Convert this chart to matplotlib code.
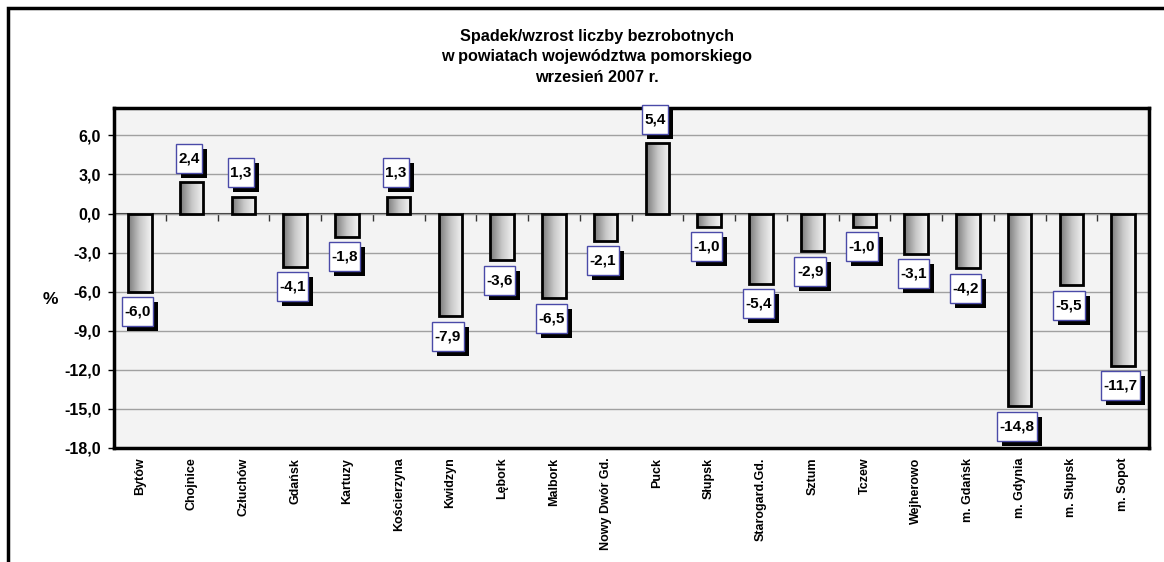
import numpy as np
import matplotlib
matplotlib.use("Agg")
import matplotlib.pyplot as plt
from matplotlib.colors import LinearSegmentedColormap
from matplotlib.patches import Rectangle
from matplotlib.transforms import IdentityTransform

plt.rcParams['font.family'] = ['Liberation Sans', 'DejaVu Sans']
plt.rcParams['font.weight'] = 'bold'

# Spadek/wzrost liczby bezrobotnych, wrzesien 2007
powiaty = ['Bytów', 'Chojnice', 'Człuchów', 'Gdańsk', 'Kartuzy', 'Kościerzyna',
           'Kwidzyn', 'Lębork', 'Malbork', 'Nowy Dwór Gd.', 'Puck', 'Słupsk',
           'Starogard.Gd.', 'Sztum', 'Tczew', 'Wejherowo', 'm. Gdańsk',
           'm. Gdynia', 'm. Słupsk', 'm. Sopot']
zmiana = [-6.0, 2.4, 1.3, -4.1, -1.8, 1.3, -7.9, -3.6, -6.5, -2.1, 5.4, -1.0,
          -5.4, -2.9, -1.0, -3.1, -4.2, -14.8, -5.5, -11.7]
y_ticks = [-18, -15, -12, -9, -6, -3, 0, 3, 6]

W, H = 1164, 562
fig = plt.figure(figsize=(W / 100, H / 100), dpi=100)
ax = fig.add_axes([114 / W, 1 - 448 / H, (1149 - 114) / W, (448 - 108) / H])

# outer chart frame
fig.add_artist(Rectangle((8 / W, -0.1), 1.2, 1 - 8 / H + 0.1, transform=fig.transFigure,
                         fill=False, lw=2.5, ec='black'))

ax.set_facecolor('#f3f3f3')
x = np.arange(len(powiaty))
bw = 0.45
cmap = LinearSegmentedColormap.from_list('bar', ['#7a7a7a', '#c8c8c8', '#f4f4f4'])
grad = np.linspace(0, 1, 64).reshape(1, -1)
for xi, v in zip(x, zmiana):
    ax.imshow(grad, cmap=cmap, aspect='auto', extent=[xi - bw / 2, xi + bw / 2, 0, v],
              zorder=2, interpolation='bilinear')
ax.bar(x, zmiana, width=bw, facecolor='none', edgecolor='black', lw=2, zorder=3)

ax.set_xlim(-0.5, len(powiaty) - 0.5)
ax.set_ylim(-18, 8.1)
ax.set_yticks(y_ticks)
ax.set_yticklabels([f"{t:.1f}".replace('.', ',') for t in y_ticks], fontsize=11.5)
ax.tick_params(axis='y', length=4.5, width=1, pad=5)
ax.yaxis.grid(True, color='#a0a0a0', lw=1)
ax.set_axisbelow(True)
ax.set_xticks(x)
ax.set_xticklabels(powiaty, rotation=90, fontsize=9)
ax.tick_params(axis='x', length=0, pad=7)
for s in ax.spines.values():
    s.set_linewidth(2.5)

# category axis crossing at zero
sec = ax.secondary_xaxis(0, transform=ax.transData)
sec.set_xticks(np.arange(len(powiaty) + 1) - 0.5)
sec.set_xticklabels([])
sec.tick_params(length=5, width=1, direction='out', color='#333333')
sec.spines['bottom'].set_linewidth(1.5)
sec.spines['bottom'].set_color('#333333')

# data labels: white box with shadow, padded more vertically than horizontally
labels = []
for xi, v in zip(x, zmiana):
    txt = f"{v:.1f}".replace('.', ',')
    dy = 24 if v > 0 else -20
    t = ax.annotate(txt, xy=(xi, v), xytext=(-2.5, dy), textcoords='offset pixels',
                    ha='center', va='center', fontsize=11, fontweight='bold', zorder=6)
    labels.append(t)

fig.canvas.draw()
for t in labels:
    bb = t.get_window_extent()
    cx, cy = (bb.x0 + bb.x1) / 2, (bb.y0 + bb.y1) / 2
    bw_px, bh_px = bb.width + 5, 29
    fig.add_artist(Rectangle((cx - bw_px / 2 + 5, cy - bh_px / 2 - 5), bw_px, bh_px,
                             transform=IdentityTransform(), fc='black', ec='black',
                             lw=0, zorder=4))
    fig.add_artist(Rectangle((cx - bw_px / 2, cy - bh_px / 2), bw_px, bh_px,
                             transform=IdentityTransform(), fc='white', ec='#4a4aa8',
                             lw=1, zorder=5))
    t.remove()
    fig.text(cx / W, cy / H, t.get_text(), ha='center', va='center', fontsize=11,
             fontweight='bold', zorder=6)

fig.text(597 / W, 1 - 57 / H,
         'Spadek/wzrost liczby bezrobotnych\nw powiatach województwa pomorskiego\nwrzesień 2007 r.',
         ha='center', va='center', fontsize=11.7, fontweight='bold', linespacing=1.5)
fig.text(50 / W, 1 - 300 / H, '%', ha='center', va='center', fontsize=12.5, fontweight='bold')

fig.savefig('out.png', dpi=100, facecolor='white')
